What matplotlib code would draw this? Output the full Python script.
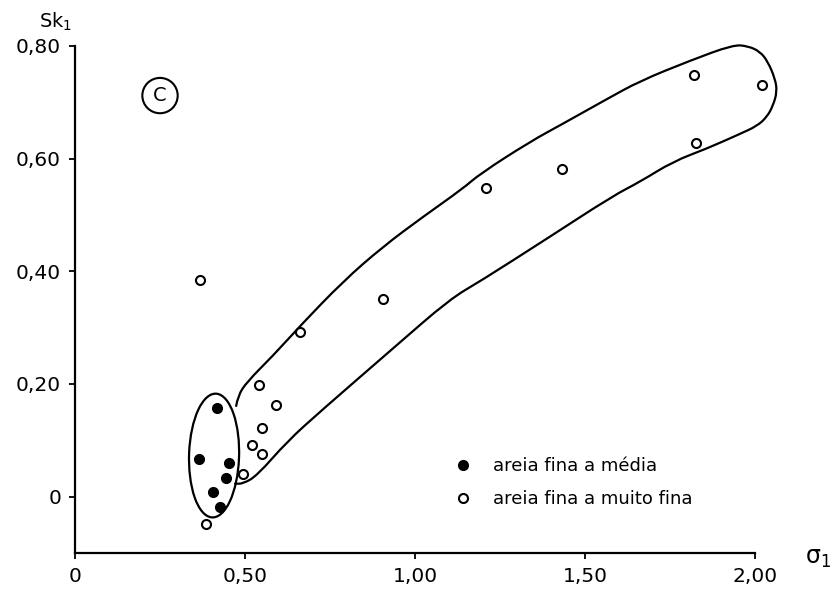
import matplotlib
matplotlib.use('Agg')
import matplotlib.pyplot as plt
from matplotlib.patches import Ellipse, PathPatch
from matplotlib.path import Path

# Pontos (sigma1, Sk1)
media_x = [0.419, 0.365, 0.454, 0.444, 0.405, 0.426]
media_y = [0.157, 0.066, 0.060, 0.034, 0.008, -0.018]

muito_fina_x = [0.368, 0.662, 0.541, 0.590, 0.551, 0.520, 0.551, 0.495, 0.384,
                0.905, 1.209, 1.433, 1.822, 1.826, 2.022]
muito_fina_y = [0.385, 0.293, 0.199, 0.162, 0.122, 0.091, 0.075, 0.041, -0.049,
                0.351, 0.548, 0.582, 0.749, 0.628, 0.731]

# contorno desenhado a mao em volta do grupo "muito fina"
envelope_x = [0.474, 0.479, 0.506, 0.582, 0.662, 0.788, 0.906, 1.024, 1.141, 1.191,
              1.338, 1.435, 1.565, 1.662, 1.809, 1.935, 1.979, 2.015, 2.038, 2.059,
              2.065, 2.053, 2.035, 2.006, 1.956, 1.859, 1.759, 1.662, 1.582, 1.388,
              1.191, 1.103, 0.935, 0.721, 0.624, 0.535, 0.494, 0.471]
envelope_y = [0.161, 0.179, 0.204, 0.250, 0.303, 0.382, 0.444, 0.497, 0.547, 0.573,
              0.630, 0.662, 0.706, 0.738, 0.774, 0.802, 0.800, 0.790, 0.772, 0.742,
              0.719, 0.694, 0.674, 0.658, 0.644, 0.618, 0.595, 0.559, 0.534, 0.458,
              0.382, 0.351, 0.263, 0.151, 0.098, 0.037, 0.023, 0.023]

# elipse em volta do grupo "media"
elipse_centro = (0.409, 0.073)
elipse_largura = 0.147
elipse_altura = 0.220

x_ticks = [0, 0.5, 1.0, 1.5, 2.0]
x_labels = ['0', '0,50', '1,00', '1,50', '2,00']
y_ticks = [0, 0.2, 0.4, 0.6, 0.8]
y_labels = ['0', '0,20', '0,40', '0,60', '0,80']


def smooth_path(xs, ys):
    """Curva suave (bezier quadratica) passando pelos pontos medios"""
    pts = list(zip(xs, ys))
    verts = [pts[0]]
    codes = [Path.MOVETO]
    for i in range(1, len(pts) - 1):
        mid = ((pts[i][0] + pts[i + 1][0]) / 2, (pts[i][1] + pts[i + 1][1]) / 2)
        verts += [pts[i], mid]
        codes += [Path.CURVE3, Path.CURVE3]
    verts.append(pts[-1])
    codes.append(Path.LINETO)
    return Path(verts, codes)


fig = plt.figure(figsize=(8.4, 5.95), dpi=100)
ax = fig.add_axes([0.0893, 0.0706, 0.8095, 0.8521])

ax.add_patch(PathPatch(smooth_path(envelope_x, envelope_y), fill=False,
                       edgecolor='black', linewidth=1.6, clip_on=False,
                       capstyle='round', joinstyle='round'))
ax.add_patch(Ellipse(elipse_centro, elipse_largura, elipse_altura, angle=-4,
                     fill=False, edgecolor='black', linewidth=1.6, clip_on=False))

ax.plot(media_x, media_y, linestyle='none', marker='o', markersize=7,
        color='black', label='areia fina a média', clip_on=False)
ax.plot(muito_fina_x, muito_fina_y, linestyle='none', marker='o', markersize=6.5,
        markerfacecolor='white', markeredgecolor='black', markeredgewidth=1.5,
        label='areia fina a muito fina', clip_on=False, zorder=3)

ax.set_xlim(0, 2.0)
ax.set_ylim(-0.1, 0.8)
ax.set_xticks(x_ticks)
ax.set_xticklabels(x_labels)
ax.set_yticks(y_ticks)
ax.set_yticklabels(y_labels)
ax.tick_params(direction='out', length=4, width=1.3, labelsize=14.5, pad=6)

for side in ['top', 'right']:
    ax.spines[side].set_visible(False)
for side in ['left', 'bottom']:
    ax.spines[side].set_linewidth(1.6)

ax.text(-0.053, 1.047, 'Sk$_1$', transform=ax.transAxes, fontsize=14,
        ha='left', va='center')
ax.text(1.093, -0.01, 'σ$_1$', transform=ax.transAxes, fontsize=17,
        ha='center', va='center')
ax.text(0.25, 0.712, 'C', fontsize=14, ha='center', va='center',
        bbox=dict(boxstyle='circle,pad=0.42', facecolor='none', edgecolor='black',
                  linewidth=1.5))

ax.legend(loc='center left', bbox_to_anchor=(0.533, 0.139), frameon=False,
          fontsize=13, handlelength=1.0, handletextpad=1.2, labelspacing=0.85)

plt.savefig('out.png', dpi=100)
